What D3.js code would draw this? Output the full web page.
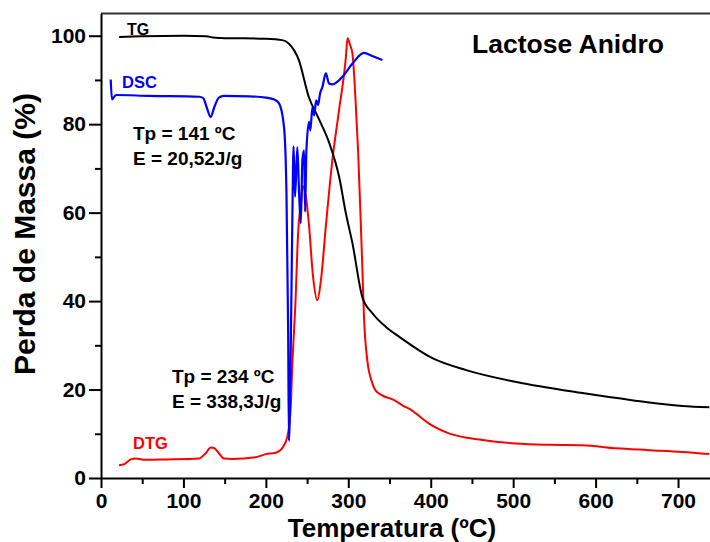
<!DOCTYPE html>
<html>
<head>
<meta charset="utf-8">
<script src="https://cdn.jsdelivr.net/npm/d3@7"></script>
<style>
  body { margin: 0; background: #fff; }
  svg { display: block; font-family: "Liberation Sans", Arial, sans-serif; font-weight: bold; }
</style>
</head>
<body>
<div id="chart"></div>
<script>
// TG (mass loss, %)
const tgTemp = [22, 50, 100, 128, 136, 145, 200, 220, 228, 240, 252, 265, 277, 289, 297, 305, 317, 329, 346, 362, 402, 443, 504, 584, 644, 705, 738];
const tgMass = [99.7, 99.9, 100.0, 99.9, 99.6, 99.5, 99.3, 99.0, 98.2, 94.5, 86.2, 80.9, 75.7, 68.0, 59.9, 53.1, 40.9, 37.3, 34.1, 31.9, 27.1, 24.4, 21.7, 19.2, 17.6, 16.3, 16.0];

// DSC (arbitrary, drawn on the same axis)
const dscTemp = [11.8, 13.3, 18.2, 58, 119, 124, 128.6, 133, 137, 143, 149, 180, 200, 210, 216, 222, 225, 227, 228, 230, 232, 233.6, 235.4, 238.2, 240.3, 242.4, 244.3, 246.4, 247.6, 249.2, 252.4, 254, 256.4, 258.5, 261, 263.3, 265.8, 268.6, 272.7, 276.7, 280.7, 292.8, 305, 319, 329, 341.4];
const dscVal  = [90.1, 85.6, 86.6, 86.4, 86.2, 85.9, 83.6, 81.6, 83.6, 86.0, 86.4, 86.3, 86.0, 85.6, 84.7, 79.4, 64.4, 34.1, 8.4, 26.7, 56.7, 75.0, 63.6, 74.8, 64.4, 57.6, 71.9, 74.1, 60.2, 74.1, 80.5, 78.6, 83.8, 82.0, 85.4, 84.3, 87.0, 88.4, 91.5, 89.2, 89.0, 90.7, 93.7, 96.1, 95.4, 94.5];

// DTG
const dtgTemp = [21.8, 28, 36, 42, 54, 78.5, 119, 127, 133, 137, 143, 149, 159, 187.7, 200, 212, 219.7, 226, 230, 232, 236, 239, 242.4, 245, 249, 252.4, 257, 262.5, 267, 272.7, 280.7, 288.8, 297, 299, 302, 305, 309, 312, 315, 317, 319, 323, 329, 333, 341, 355.6, 367.7, 373.8, 382, 398, 422, 463, 503, 544, 584, 625, 665, 705, 738];
const dtgVal  = [2.9, 3.1, 4.2, 4.4, 4.1, 4.2, 4.4, 5.6, 6.9, 6.8, 5.6, 4.4, 4.3, 4.7, 5.4, 5.7, 6.7, 9.3, 15.4, 25.2, 40.2, 55, 62, 66, 63, 57, 46, 40.2, 45, 56.8, 71.9, 83.2, 95, 99.4, 98, 96, 84.7, 73.4, 58.3, 47.8, 36.5, 26.7, 21.5, 19.8, 18.7, 17.6, 16.2, 15.7, 14.6, 12.3, 10.1, 8.6, 7.8, 7.5, 7.4, 6.7, 6.3, 5.9, 5.4];

const xTicks = [0, 100, 200, 300, 400, 500, 600, 700];
const xMinor = [50, 150, 250, 350, 450, 550, 650];
const yTicks = [0, 20, 40, 60, 80, 100];
const yMinor = [10, 30, 50, 70, 90];

const width = 710, height = 542;

const svg = d3.select("#chart")
    .append("svg")
    .attr("width", width)
    .attr("height", height);

const x = d3.scaleLinear().domain([0, 740]).range([101, 711]);
const y = d3.scaleLinear().domain([0, 105]).range([478, 13.6]);

const line = (xs, ys) => d3.line()
    .x((d, i) => x(xs[i]))
    .y((d, i) => y(ys[i]))
    .curve(d3.curveMonotoneX)(xs);

// curves
svg.append("path").attr("d", line(dtgTemp, dtgVal))
    .attr("fill", "none").attr("stroke", "#ff0000").attr("stroke-width", 2);
svg.append("path").attr("d", line(tgTemp, tgMass))
    .attr("fill", "none").attr("stroke", "#000").attr("stroke-width", 2);
svg.append("path").attr("d", line(dscTemp, dscVal))
    .attr("fill", "none").attr("stroke", "#0000ff").attr("stroke-width", 2.2);

// frame top
svg.append("line")
    .attr("x1", x(0)).attr("x2", width)
    .attr("y1", y(105)).attr("y2", y(105))
    .attr("stroke", "#333").attr("stroke-width", 2);

// x axis
const xAxis = svg.append("g")
    .attr("transform", `translate(0,${y(0)})`)
    .call(d3.axisBottom(x).tickValues(xTicks).tickSize(10).tickPadding(5).tickSizeOuter(0));
svg.append("g")
    .attr("transform", `translate(0,${y(0)})`)
    .call(d3.axisBottom(x).tickValues(xMinor).tickSize(6).tickFormat("").tickSizeOuter(0))
    .select(".domain").remove();

// y axis
const yAxis = svg.append("g")
    .attr("transform", `translate(${x(0)},0)`)
    .call(d3.axisLeft(y).tickValues(yTicks).tickSize(12).tickPadding(3).tickSizeOuter(0));
svg.append("g")
    .attr("transform", `translate(${x(0)},0)`)
    .call(d3.axisLeft(y).tickValues(yMinor).tickSize(6).tickFormat("").tickSizeOuter(0))
    .select(".domain").remove();

svg.selectAll(".domain").attr("stroke", "#000").attr("stroke-width", 2);
svg.selectAll(".tick line").attr("stroke", "#000").attr("stroke-width", 2);
svg.selectAll(".tick text")
    .attr("fill", "#000")
    .style("font-family", "'Liberation Sans', Arial, sans-serif")
    .style("font-weight", "bold")
    .style("font-size", "21px");
xAxis.selectAll(".tick text").attr("dy", "0.72em");

// axis titles
svg.append("text")
    .attr("x", 392).attr("y", 537)
    .attr("text-anchor", "middle")
    .style("font-size", "26px")
    .text("Temperatura (ºC)");

svg.append("text")
    .attr("transform", "translate(35,234) rotate(-90)")
    .attr("text-anchor", "middle")
    .style("font-size", "30px")
    .text("Perda de Massa (%)");

// title and labels
const labels = [
    { t: "Lactose Anidro", x: 472, y: 53, size: 26.5, color: "#000" },
    { t: "TG", x: 127, y: 35, size: 16, color: "#000" },
    { t: "DSC", x: 122, y: 88, size: 16.5, color: "#0000ff" },
    { t: "DTG", x: 133, y: 449, size: 16.5, color: "#ff0000" },
    { t: "Tp = 141 ºC", x: 133, y: 140, size: 19, color: "#000" },
    { t: "E = 20,52J/g", x: 133, y: 165, size: 19, color: "#000" },
    { t: "Tp = 234 ºC", x: 172, y: 383, size: 19, color: "#000" },
    { t: "E = 338,3J/g", x: 172, y: 408, size: 19, color: "#000" }
];

svg.selectAll("text.lbl")
    .data(labels)
    .join("text")
    .attr("class", "lbl")
    .attr("x", d => d.x)
    .attr("y", d => d.y)
    .attr("fill", d => d.color)
    .style("font-size", d => d.size + "px")
    .text(d => d.t);
</script>
</body>
</html>
